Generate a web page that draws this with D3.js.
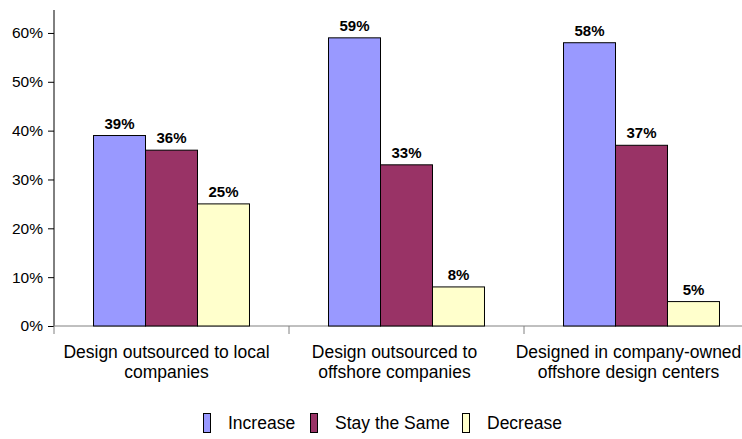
<!DOCTYPE html>
<html><head><meta charset="utf-8">
<script src="https://cdn.jsdelivr.net/npm/d3@7/dist/d3.min.js"></script>
<style>body{margin:0;background:#fff;overflow:hidden}svg{display:block;font-family:Arial,"Liberation Sans",sans-serif}</style>
</head><body><svg id="c" width="742" height="439"></svg>
<script>
const categories = [
  ["Design outsourced to local", "companies"],
  ["Design outsourced to", "offshore companies"],
  ["Designed in company-owned", "offshore design centers"]
];
const seriesNames = ["Increase", "Stay the Same", "Decrease"];
const increase = [0.39, 0.59, 0.58];
const stayTheSame = [0.36, 0.33, 0.37];
const decrease = [0.25, 0.08, 0.05];
const colors = ["#9999FF", "#993366", "#FFFFCC"];
const yTicks = [0, 0.1, 0.2, 0.3, 0.4, 0.5, 0.6];

const series = [increase, stayTheSame, decrease];
const svg = d3.select("#c");
const pLeft = 54, pRight = 759, pTop = 10, pBottom = 326;
const labelShift = [-5, -12, -13];

const y = d3.scaleLinear().domain([0, 0.647]).range([pBottom, pTop]);
const x0 = d3.scaleBand().domain(d3.range(categories.length)).range([pLeft, pRight]).paddingInner(0).paddingOuter(0);
const x1 = d3.scaleBand().domain(d3.range(series.length)).range([0, x0.bandwidth()]).paddingOuter(0.76).paddingInner(0);

// y axis
const yAxis = d3.axisLeft(y).tickValues(yTicks).tickFormat(d3.format(".0%")).tickSize(6).tickSizeOuter(0);
const ya = svg.append("g").attr("transform", `translate(${pLeft},0)`).call(yAxis);
ya.select(".domain").remove();
ya.append("line").attr("x1", 0).attr("x2", 0).attr("y1", pTop).attr("y2", pBottom).attr("stroke", "#000");
ya.selectAll(".tick line").attr("stroke", "#000");
ya.selectAll(".tick text").attr("font-size", 15.5).attr("fill", "#000").attr("x", -11).attr("font-family", "Arial, 'Liberation Sans', sans-serif");

// x axis
const xa = svg.append("g");
xa.append("line").attr("x1", pLeft).attr("x2", pRight).attr("y1", pBottom).attr("y2", pBottom).attr("stroke", "#808080");
xa.selectAll(".tk").data(d3.range(categories.length)).join("line")
  .attr("x1", d => x0(d)).attr("x2", d => x0(d)).attr("y1", pBottom).attr("y2", pBottom + 8).attr("stroke", "#808080");
xa.selectAll(".cl").data(categories).join("text")
  .attr("text-anchor", "middle").attr("font-size", 17.5).attr("fill", "#000")
  .attr("x", (d, i) => x0(i) + x0.bandwidth() / 2 + labelShift[i])
  .attr("y", 358)
  .each(function(d) {
    const t = d3.select(this);
    d.forEach((line, j) => t.append("tspan").attr("x", t.attr("x")).attr("dy", j === 0 ? 0 : 20).text(line));
  });

// bars
const g = svg.append("g");
series.forEach((vals, s) => {
  g.selectAll(".b" + s).data(vals).join("rect")
    .attr("x", (d, i) => x0(i) + x1(s))
    .attr("y", d => y(d))
    .attr("width", x1.bandwidth())
    .attr("height", d => pBottom - y(d))
    .attr("fill", colors[s]).attr("stroke", "#000").attr("stroke-width", 1);
  g.selectAll(".l" + s).data(vals).join("text")
    .attr("x", (d, i) => x0(i) + x1(s) + x1.bandwidth() / 2)
    .attr("y", d => y(d) - 7)
    .attr("text-anchor", "middle").attr("font-size", 15).attr("font-weight", "bold").attr("fill", "#000")
    .text(d => d3.format(".0%")(d));
});

// legend
const legX = [203, 310, 462];
const leg = svg.append("g");
seriesNames.forEach((n, i) => {
  leg.append("rect").attr("x", legX[i] + 0.5).attr("y", 413.5).attr("width", 7).attr("height", 19)
    .attr("fill", colors[i]).attr("stroke", "#000");
  leg.append("text").attr("x", legX[i] + 25).attr("y", 429).attr("font-size", 17.5).attr("fill", "#000").text(n);
});
</script></body></html>
